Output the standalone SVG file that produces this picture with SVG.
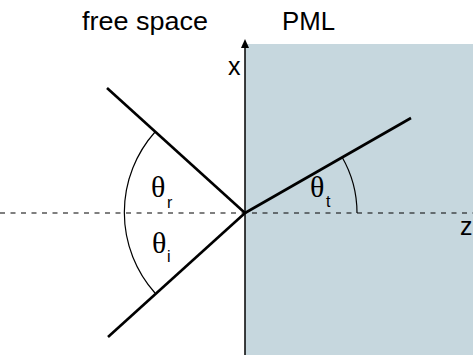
<svg xmlns="http://www.w3.org/2000/svg" width="473" height="355" viewBox="0 0 473 355">
<style>
.lbl{font-family:"Liberation Sans",Arial,sans-serif;font-size:25px;fill:#000}
.th{font-family:"Liberation Serif","Times New Roman",serif;font-size:30px;fill:#000}
.sub{font-family:"Liberation Sans",Arial,sans-serif;font-size:16px;fill:#000}
.ray{stroke:#000;stroke-width:2.6;fill:none;stroke-linecap:butt}
.arc{stroke:#000;stroke-width:1.2;fill:none}
</style>
<g id="pml">
<rect x="245" y="44" width="228" height="311" fill="#c6d7de"/>
</g>
<g id="connectors">
<line x1="0" y1="213" x2="473" y2="213" stroke="#000" stroke-width="1.2" stroke-dasharray="5 5.5"/>
<line x1="245" y1="355" x2="245" y2="47" stroke="#000" stroke-width="1.5"/>
<path d="M241,48 L245,39 L249,48 Z" fill="#000"/>
<line class="ray" x1="245" y1="213" x2="107" y2="88"/>
<line class="ray" x1="245" y1="213" x2="108" y2="337"/>
<line class="ray" x1="245" y1="213" x2="411" y2="118"/>
<path class="arc" d="M155,132 A121,121 0 0 0 155,293"/>
<path class="arc" d="M342,157 A112,112 0 0 1 357,213"/>
</g>
<g id="labels">
<text class="lbl" x="82" y="30" textLength="126" lengthAdjust="spacingAndGlyphs">free space</text>
<text class="lbl" x="282" y="30" textLength="53" lengthAdjust="spacingAndGlyphs">PML</text>
<text class="lbl" x="228" y="75">x</text>
<text class="lbl" x="460" y="235">z</text>
<text class="th" x="151" y="197">θ</text><text class="sub" x="167" y="208">r</text>
<text class="th" x="152" y="253">θ</text><text class="sub" x="167" y="262">i</text>
<text class="th" x="310" y="197">θ</text><text class="sub" x="326" y="207">t</text>
</g>
</svg>
